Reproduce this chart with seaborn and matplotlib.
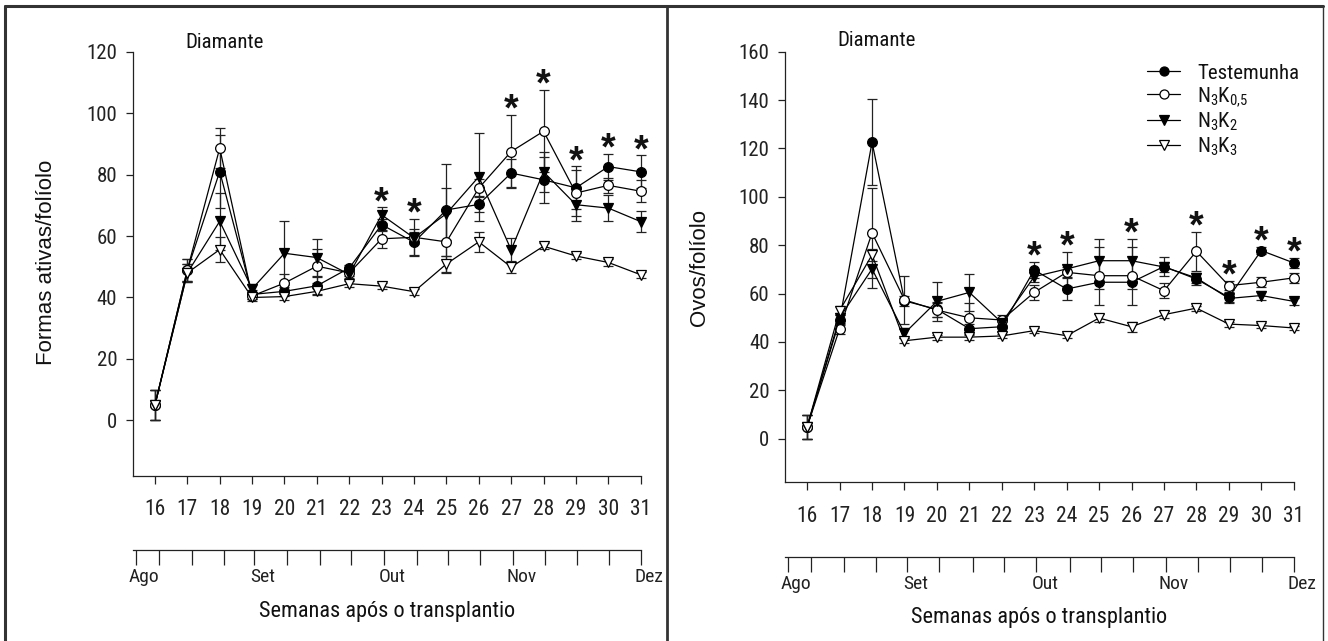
import numpy as np
import pandas as pd
import matplotlib
matplotlib.use("Agg")
import matplotlib.pyplot as plt
import seaborn as sns
from matplotlib.lines import Line2D
from matplotlib.transforms import ScaledTranslation
from matplotlib import font_manager as fm

# ---------------- data ----------------
weeks = [16, 17, 18, 19, 20, 21, 22, 23, 24, 25, 26, 27, 28, 29, 30, 31]
series_names = ["Testemunha", r"N$_3$K$_{0{,}5}$", r"N$_3$K$_2$", r"N$_3$K$_3$"]

# Left panel: Formas ativas/folíolo
L_T = [5, 49, 81, 41, 42, 43.8, 49.6, 63.7, 58, 68.5, 70.3, 80.5, 78.3, 75.7, 82.6, 80.9]
L_K05 = [5, 49, 88.6, 40.5, 44.7, 50.2, 48, 59.1, 59.6, 58.1, 75.6, 87.5, 94.1, 74, 76.5, 74.6]
L_K2 = [5, 48, 64.8, 42.8, 54.4, 53, 47.5, 66.9, 59.4, 67.3, 79.3, 55.5, 80.9, 70.2, 69.1, 64.7]
L_K3 = [5, 48, 55.6, 40, 40.3, 42, 44.5, 43.7, 41.9, 50.9, 58.1, 49.9, 56.7, 53.5, 51.4, 47.4]
L_T_err = [5, 3.5, 11.8, 1.5, 1.5, 3, 1, 2, 4.2, 15, 2.6, 4.5, 7.5, 7, 4.2, 5.4]
L_K05_err = [5, 3.5, 6.6, 1, 3, 5.5, 1, 3, 6, 10, 3, 12, 13.4, 7.4, 2.5, 3.5]
L_K2_err = [5, 3, 9.3, 1.5, 10.4, 6, 1, 2.5, 2, 8.5, 14.4, 4, 6.5, 5.2, 4.1, 3.4]
L_K3_err = [5, 3, 4.2, 1, 1, 1, 1, 1, 1, 2.5, 3.3, 2, 1, 1, 1, 1]
L_sig_weeks = [23, 24, 27, 28, 29, 30, 31]

# Right panel: Ovos/folíolo
R_T = [5, 49, 122.6, 57, 53.5, 45.5, 46.3, 69.8, 61.9, 64.7, 64.7, 71.2, 66, 58.5, 77.8, 72.7]
R_K05 = [5, 45.5, 85.1, 57.4, 53.2, 50, 49.1, 60.5, 68.8, 67.4, 67.4, 61.2, 77.5, 63.3, 64.7, 66.5]
R_K2 = [5, 50, 70.2, 43.6, 56.8, 60.5, 48, 67, 70.2, 73.6, 73.6, 71, 66.5, 58, 59.2, 56.8]
R_K3 = [5, 53, 76, 40.5, 42, 42, 42.5, 44.7, 42.6, 49.9, 46.3, 51.3, 54, 47.4, 46.8, 45.8]
R_T_err = [5, 2, 17.7, 2, 3, 2, 2, 3.3, 4.4, 3, 3, 4, 2.5, 2, 1.5, 2]
R_K05_err = [5, 2, 18.6, 10, 3, 6, 2, 3, 2, 12, 12, 3, 8, 2, 2, 2]
R_K2_err = [5, 2, 8, 2, 8, 7.6, 1.5, 2, 7.2, 9, 9, 2, 2, 2, 2, 1.5]
R_K3_err = [5, 2, 2.5, 1, 1, 1, 1, 1, 1, 1.5, 2, 1.5, 1, 1, 1, 1]
R_sig_weeks = [23, 24, 26, 28, 29, 30, 31]

month_labels = ["Ago", "", "", "", "Set", "", "", "", "Out", "", "", "", "Nov", "", "", "", "Dez"]
month_ticks = [15.4, 16.13, 17.15, 18.13, 19.07, 20.07, 21.1, 22.06, 23.07,
               24.09, 25.06, 26.05, 27.05, 28.05, 29.04, 30.02, 31.0]

# ---------------- style ----------------
sns.set_theme(style="ticks")
_names = {f.name for f in fm.fontManager.ttflist}
_cands = ["Liberation Sans Narrow", "Arial Narrow", "Roboto Condensed",
          "Open Sans Condensed", "Archivo Narrow", "Fira Sans Condensed"]
_narrow = [c for c in _cands if c in _names]
NARROW = (_narrow[:1] if _narrow else []) + ["Liberation Sans", "DejaVu Sans"]
REG = ["Liberation Sans", "DejaVu Sans"]
plt.rcParams["font.family"] = NARROW
plt.rcParams["mathtext.default"] = "regular"
plt.rcParams["axes.edgecolor"] = "#222222"
plt.rcParams["xtick.color"] = "#222222"
plt.rcParams["ytick.color"] = "#222222"
plt.rcParams["text.color"] = "#111111"

W, H = 1328, 641
fig = plt.figure(figsize=(W / 100, H / 100), dpi=100)
fig.patch.set_facecolor("white")


def px_rect(l, t, r, b):
    return [l / W, 1 - b / H, (r - l) / W, (b - t) / H]


axL = fig.add_axes(px_rect(132.6, 51.7, 640.7, 475.7))
axR = fig.add_axes(px_rect(784.8, 51.7, 1293.7, 482.3))

styles = [
    dict(marker="o", mfc="black", ms=7),
    dict(marker="o", mfc="white", ms=7),
    dict(marker="v", mfc="black", ms=7.5),
    dict(marker="v", mfc="white", ms=7.5),
]


def draw_panel(ax, vals, errs, sig_weeks, ylim, yticks, month_loc, sig_off):
    handles = []
    for v, e in zip(vals, errs):
        ax.errorbar(weeks, v, yerr=e, fmt="none", ecolor="#222222", elinewidth=0.9,
                    capsize=3.5, capthick=0.9, clip_on=False, zorder=2)
    for name, v, st in zip(series_names, vals, styles):
        df = pd.DataFrame({"week": weeks, "val": v})
        sns.lineplot(data=df, x="week", y="val", ax=ax, color="black", linewidth=0.9,
                     marker=st["marker"], markersize=st["ms"], markerfacecolor=st["mfc"],
                     markeredgecolor="black", markeredgewidth=0.9, clip_on=False,
                     legend=False, zorder=3)
        handles.append(Line2D([], [], color="black", linewidth=0.9, marker=st["marker"],
                              markersize=st["ms"] - 0.5, markerfacecolor=st["mfc"],
                              markeredgecolor="black", markeredgewidth=0.9, label=name))
    # significance asterisks
    for w in sig_weeks:
        i = weeks.index(w)
        top = max(v[i] + e[i] for v, e in zip(vals, errs))
        ax.annotate("*", xy=(w, top), xytext=(0, sig_off), textcoords="offset points",
                    ha="center", va="center", fontsize=27, fontweight="bold",
                    family=REG, annotation_clip=False)

    ax.set_xlim(15.31, 31.0)
    ax.set_ylim(*ylim)
    ax.set_xticks(weeks)
    ax.set_xticklabels([str(w) for w in weeks], fontsize=15.5)
    ax.set_yticks(yticks)
    ax.set_yticklabels([str(t) for t in yticks], fontsize=15)
    ax.tick_params(axis="x", direction="out", length=6, width=0.9, pad=11)
    ax.tick_params(axis="y", direction="out", length=5, width=0.9, pad=6)
    for s in ["top", "right"]:
        ax.spines[s].set_visible(False)
    for s in ["left", "bottom"]:
        ax.spines[s].set_linewidth(0.9)
    ax.set_xlabel("")
    ax.set_ylabel("")

    sec = ax.secondary_xaxis(month_loc)
    sec.set_xticks(month_ticks)
    sec.set_xticklabels(month_labels, fontsize=14)
    sec.tick_params(axis="x", direction="out", length=11, width=0.9, pad=2)
    sec.spines["bottom"].set_linewidth(0.9)
    off = ScaledTranslation(8.5 / 100, 0, fig.dpi_scale_trans)
    for lab in sec.get_xticklabels():
        lab.set_transform(lab.get_transform() + off)
    return handles


hL = draw_panel(axL, [L_T, L_K05, L_K2, L_K3], [L_T_err, L_K05_err, L_K2_err, L_K3_err],
                L_sig_weeks, (-18, 120), [0, 20, 40, 60, 80, 100, 120], -0.175, 3)
hR = draw_panel(axR, [R_T, R_K05, R_K2, R_K3], [R_T_err, R_K05_err, R_K2_err, R_K3_err],
                R_sig_weeks, (-18, 160), [0, 20, 40, 60, 80, 100, 120, 140, 160], -0.173, 3)

# "Diamante" labels
fig.text(185 / W, 1 - 42 / H, "Diamante", fontsize=15, ha="left", va="center")
fig.text(837.7 / W, 1 - 41 / H, "Diamante", fontsize=15, ha="left", va="center")

# y labels
fig.text(46.5 / W, 1 - 262 / H, "Formas ativas/folíolo", rotation=90, fontsize=16,
         ha="center", va="center", family=REG)
fig.text(699 / W, 1 - 268 / H, "Ovos/folíolo", rotation=90, fontsize=16,
         ha="center", va="center", family=REG)

# x labels
fig.text(386.6 / W, 1 - 612 / H, "Semanas após o transplantio", fontsize=16,
         ha="center", va="center")
fig.text(1039 / W, 1 - 618 / H, "Semanas após o transplantio", fontsize=16,
         ha="center", va="center")

# legend
axR.legend(handles=hR, loc="upper left", bbox_to_anchor=(0.712, 0.972), frameon=False,
           fontsize=15, handlelength=1.6, handletextpad=0.8, labelspacing=0.12,
           borderpad=0, borderaxespad=0)

# panel borders
bc = "#333333"
fig.add_artist(Line2D([5 / W, 5 / W], [0, 1 - 6 / H], color=bc, linewidth=2.2))
fig.add_artist(Line2D([5 / W, 1322.7 / W], [1 - 6 / H, 1 - 6 / H], color=bc, linewidth=2.2))
fig.add_artist(Line2D([1322.7 / W, 1322.7 / W], [0, 1 - 6 / H], color=bc, linewidth=1.0))
fig.add_artist(Line2D([667 / W, 667 / W], [0, 1 - 6 / H], color=bc, linewidth=2.0))

fig.savefig("out.png", dpi=100, facecolor="white")
